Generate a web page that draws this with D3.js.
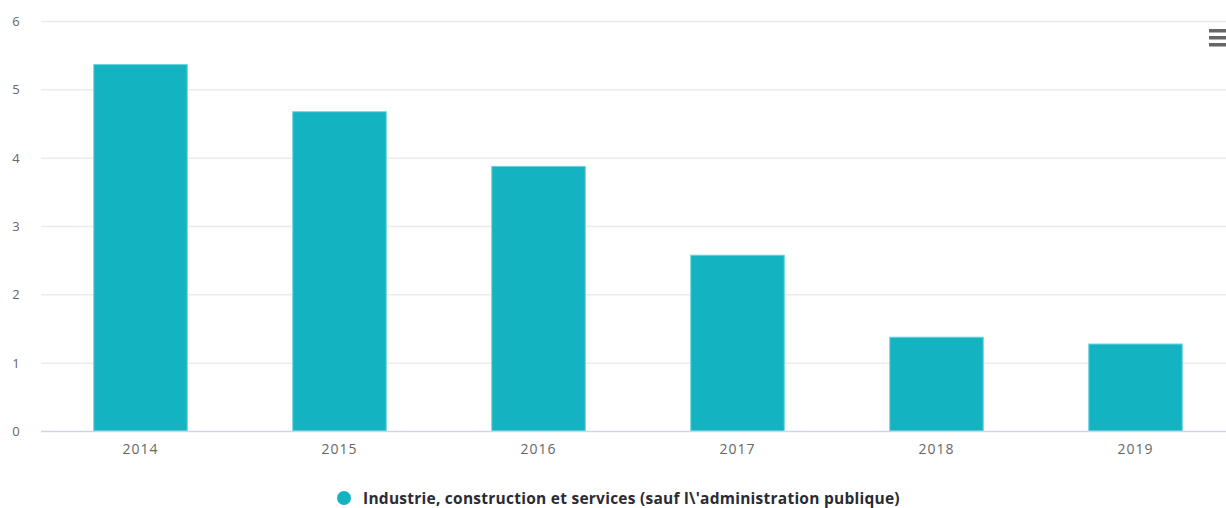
<!DOCTYPE html>
<html><head><meta charset="utf-8">
<script src="https://cdn.jsdelivr.net/npm/d3@7"></script>
<style>html,body{margin:0;padding:0;background:#fff;overflow:hidden}</style>
</head><body>
<svg id="c" width="1226" height="508"></svg>
<script>
const categories = ["2014","2015","2016","2017","2018","2019"];
const values = [5.37, 4.68, 3.88, 2.58, 1.38, 1.28];
const yTicks = [0,1,2,3,4,5,6];
const seriesName = "Industrie, construction et services (sauf l\\'administration publique)";

(function(){
const svg = d3.select("#c");
const mLeft = 41, mRight = 1235, mTop = 21, mBottom = 431;
const x = d3.scaleBand().domain(categories).range([mLeft, mRight]).paddingInner(0.525).paddingOuter(0.2625);
const y = d3.scaleLinear().domain([0,6]).range([mBottom, mTop]);

svg.append("g").selectAll("line").data(yTicks.filter(d=>d>0)).join("line")
  .attr("x1", mLeft).attr("x2", 1226)
  .attr("y1", d=>y(d)+0.5).attr("y2", d=>y(d)+0.5)
  .attr("stroke", "#ececf0").attr("stroke-width", 1.5);

svg.append("g").selectAll("text").data(yTicks).join("text")
  .attr("x", 16).attr("y", d=>y(d)+5)
  .attr("text-anchor","middle")
  .attr("font-family","Open Sans, sans-serif").attr("font-size", 13)
  .attr("fill","#666").text(d=>d);

svg.append("g").selectAll("rect").data(values).join("rect")
  .attr("x", (d,i)=>x(categories[i])+0.5)
  .attr("width", x.bandwidth()-1)
  .attr("y", d=>y(d)+0.5)
  .attr("height", d=>y(0)-y(d)-0.5)
  .attr("fill","#14b3c1").attr("stroke","#6fd3dc").attr("stroke-width",1);

svg.append("line").attr("x1",mLeft).attr("x2",1226).attr("y1",mBottom+0.5).attr("y2",mBottom+0.5)
  .attr("stroke","#ccd6eb").attr("stroke-width",1.5);

svg.append("g").selectAll("text").data(categories).join("text")
  .attr("x", d=>x(d)+x.bandwidth()/2).attr("y", 454)
  .attr("text-anchor","middle")
  .attr("font-family","Open Sans, sans-serif").attr("font-size", 14).attr("letter-spacing", 1)
  .attr("fill","#666").text(d=>d);

const lg = svg.append("g");
lg.append("circle").attr("cx",344).attr("cy",498).attr("r",7).attr("fill","#14b3c1");
lg.append("text").attr("x",363).attr("y",504)
  .attr("font-family","Open Sans, sans-serif").attr("font-size",15.5).attr("font-weight","bold")
  .attr("letter-spacing",0.25)
  .attr("fill","#2b2b33").text(seriesName);

svg.append("g").selectAll("rect").data([0,1,2]).join("rect")
  .attr("x",1209).attr("y",d=>29+d*7).attr("width",18).attr("height",3.5)
  .attr("fill","#666");
})();
</script>
</body></html>
